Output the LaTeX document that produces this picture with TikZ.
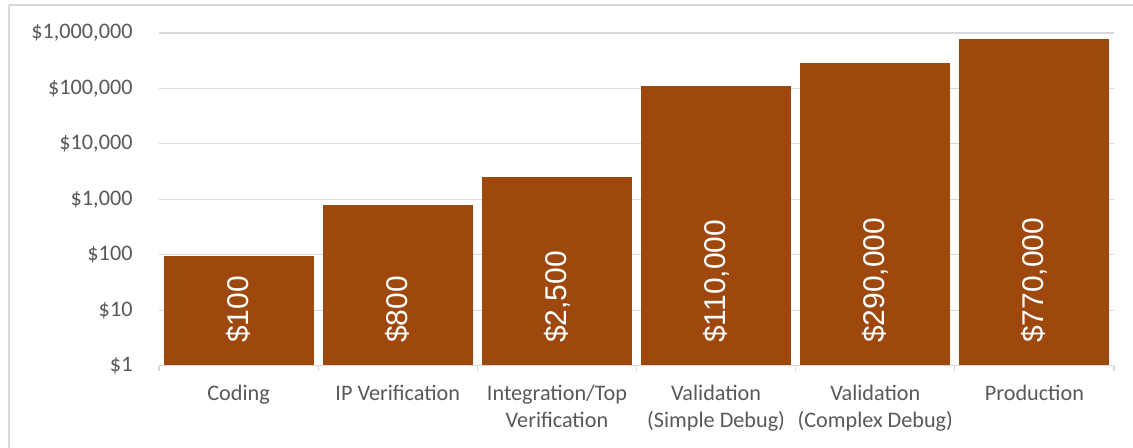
\documentclass[tikz,border=0pt]{standalone}
\usepackage{fontspec}
\setmainfont{Carlito}
\newfontfamily\barfont{Liberation Sans}
\definecolor{barc}{HTML}{9E480E}
\definecolor{gridc}{HTML}{D9D9D9}
\definecolor{txtc}{HTML}{595959}
\tikzset{
  gridline/.style={draw=gridc,line width=1.2bp},
  axislbl/.style={anchor=east,text=txtc,inner sep=0pt,font=\fontsize{22.2bp}{26bp}\selectfont},
  catlbl/.style={anchor=base,text=txtc,inner sep=0pt,align=center,font=\fontsize{22.2bp}{26.7bp}\selectfont},
  barlbl/.style={rotate=90,anchor=west,text=white,inner sep=0pt,font=\barfont\fontsize{30bp}{36bp}\selectfont},
  barfill/.style={fill=barc}
}
\begin{document}
\begin{tikzpicture}[x=1bp,y=-1bp]
\useasboundingbox (0,0) rectangle (1133,448);
\fill[white] (0,0) rectangle (1133,448);
\draw[draw=gridc,line width=1.2bp] (9,5) -- (1140,5);
\draw[draw=gridc,line width=1.2bp] (9,5) -- (9,455);
% gridlines and y labels
\foreach \lbl [count=\i from 0] in {\$1,\$10,\$100,{\$1,000},{\$10,000},{\$100,000},{\$1,000,000}}{
  \pgfmathsetmacro{\yy}{365.7-55.45*\i}
  \ifnum\i>0 \draw[gridline] (159,\yy) -- (1114,\yy);\fi
  \node[axislbl] (ylab\i) at (132.7,\yy) {\lbl};
}
% bars
\foreach \top/\val [count=\i from 0] in {255.8/{\$100},204.7/{\$800},177.3/{\$2,500},86.2/{\$110,000},62.8/{\$290,000},39.3/{\$770,000}}{
  \pgfmathsetmacro{\L}{159+159.17*\i}
  \fill[barfill] (\L+4.6,\top) rectangle (\L+154.6,365.7);
  \node[barlbl] (bl\i) at (\L+79.6,343) {\val};
}
% x axis
\draw[gridline] (159,365.7) -- (1114,365.7);
\foreach \i in {0,...,6}{
  \pgfmathsetmacro{\L}{159+159.17*\i}
  \draw[gridline] (\L,365.7) -- (\L,371.5);
}
\foreach \txt/\yb [count=\i from 0] in {Coding/401,IP Verification/401,{Integration/Top\\Verification}/427.7,{Validation\\(Simple Debug)}/427.7,{Validation\\(Complex Debug)}/427.7,Production/401}{
  \pgfmathsetmacro{\L}{159+159.17*\i+79.6}
  \node[catlbl] (cat\i) at (\L,\yb) {\txt};
}
\end{tikzpicture}
\end{document}
